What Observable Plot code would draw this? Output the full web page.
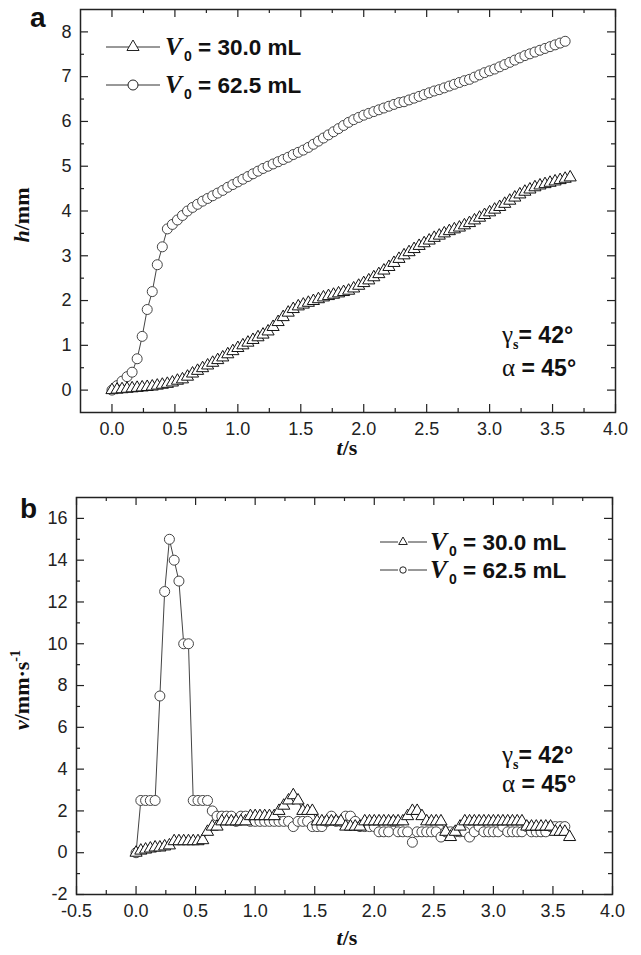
<!DOCTYPE html>
<html><head><meta charset="utf-8">
<script src="https://cdn.jsdelivr.net/npm/d3@7"></script>
<script src="https://cdn.jsdelivr.net/npm/@observablehq/plot@0.6"></script>
<style>
html,body{margin:0;padding:0;background:#fff;}
#wrap{position:relative;width:641px;height:955px;overflow:hidden;background:#fff;}
#wrap svg{position:absolute;left:0;}
</style></head><body><div id="wrap"></div>
<script>
// ---- data ----
const t = [
  0, 0.04, 0.08, 0.12, 0.16, 0.2, 0.24, 0.28, 0.32, 0.36,
  0.4, 0.44, 0.48, 0.52, 0.56, 0.6, 0.64, 0.68, 0.72, 0.76,
  0.8, 0.84, 0.88, 0.92, 0.96, 1.0, 1.04, 1.08, 1.12, 1.16,
  1.2, 1.24, 1.28, 1.32, 1.36, 1.4, 1.44, 1.48, 1.52, 1.56,
  1.6, 1.64, 1.68, 1.72, 1.76, 1.8, 1.84, 1.88, 1.92, 1.96,
  2.0, 2.04, 2.08, 2.12, 2.16, 2.2, 2.24, 2.28, 2.32, 2.36,
  2.4, 2.44, 2.48, 2.52, 2.56, 2.6, 2.64, 2.68, 2.72, 2.76,
  2.8, 2.84, 2.88, 2.92, 2.96, 3.0, 3.04, 3.08, 3.12, 3.16,
  3.2, 3.24, 3.28, 3.32, 3.36, 3.4, 3.44, 3.48, 3.52, 3.56,
  3.6, 3.64
];
// h (mm), V0 = 30.0 mL (triangles)
const h30 = [
  0, 0.01, 0.02, 0.03, 0.04, 0.05, 0.06, 0.07, 0.08, 0.10,
  0.12, 0.14, 0.17, 0.21, 0.24, 0.30, 0.37, 0.43, 0.49, 0.55,
  0.61, 0.67, 0.73, 0.80, 0.87, 0.94, 1.00, 1.06, 1.12, 1.18,
  1.24, 1.31, 1.41, 1.52, 1.63, 1.73, 1.81, 1.87, 1.91, 1.95,
  1.99, 2.03, 2.07, 2.10, 2.13, 2.16, 2.19, 2.22, 2.27, 2.33,
  2.39, 2.45, 2.52, 2.59, 2.67, 2.75, 2.84, 2.93, 3.01, 3.08,
  3.15, 3.22, 3.28, 3.34, 3.40, 3.45, 3.50, 3.55, 3.59, 3.63,
  3.68, 3.73, 3.79, 3.85, 3.91, 3.97, 4.03, 4.09, 4.16, 4.23,
  4.30, 4.37, 4.43, 4.48, 4.53, 4.57, 4.60, 4.63, 4.66, 4.69,
  4.72, 4.75
];
// h (mm), V0 = 62.5 mL (circles)
const h625 = [
  0, 0.1, 0.2, 0.3, 0.4, 0.7, 1.2, 1.8, 2.2, 2.8,
  3.2, 3.6, 3.7, 3.8, 3.9, 4.0, 4.08, 4.15, 4.22, 4.28,
  4.34, 4.40, 4.46, 4.53, 4.59, 4.65, 4.71, 4.77, 4.83, 4.89,
  4.95, 5.00, 5.05, 5.10, 5.15, 5.20, 5.26, 5.31, 5.36, 5.42,
  5.49, 5.56, 5.63, 5.70, 5.77, 5.84, 5.91, 5.98, 6.04, 6.09,
  6.14, 6.18, 6.22, 6.26, 6.30, 6.34, 6.38, 6.42, 6.44, 6.48,
  6.52, 6.56, 6.60, 6.64, 6.68, 6.71, 6.75, 6.79, 6.83, 6.87,
  6.91, 6.94, 6.99, 7.04, 7.09, 7.13, 7.17, 7.22, 7.27, 7.32,
  7.37, 7.42, 7.47, 7.51, 7.55, 7.59, 7.63, 7.67, 7.71, 7.75,
  7.79
];
// v (mm/s), V0 = 30.0 mL (triangles)
const v30 = [
  0, 0.1, 0.15, 0.2, 0.25, 0.25, 0.3, 0.35, 0.55, 0.55,
  0.55, 0.55, 0.55, 0.55, 0.6, 1.0, 1.25, 1.25, 1.5, 1.5,
  1.5, 1.5, 1.5, 1.5, 1.75, 1.75, 1.75, 1.75, 1.75, 1.75,
  2.0, 2.25, 2.5, 2.75, 2.5, 2.0, 2.0, 2.0, 1.5, 1.5,
  1.5, 1.5, 1.5, 1.5, 1.25, 1.25, 1.25, 1.25, 1.5, 1.5,
  1.5, 1.5, 1.5, 1.5, 1.5, 1.5, 1.5, 1.75, 2.0, 2.0,
  1.75, 1.5, 1.5, 1.5, 1.5, 1.0, 0.75, 1.0, 1.25, 1.5,
  1.5, 1.5, 1.5, 1.5, 1.5, 1.5, 1.5, 1.5, 1.5, 1.5,
  1.5, 1.5, 1.25, 1.25, 1.25, 1.25, 1.25, 1.25, 1.0, 1.0,
  1.0, 0.75
];
// v (mm/s), V0 = 62.5 mL (circles)
const v625 = [
  0, 2.5, 2.5, 2.5, 2.5, 7.5, 12.5, 15, 14, 13,
  10, 10, 2.5, 2.5, 2.5, 2.5, 2.0, 1.75, 1.75, 1.75,
  1.75, 1.5, 1.75, 1.75, 1.5, 1.5, 1.5, 1.5, 1.5, 1.5,
  1.5, 1.5, 1.5, 1.25, 1.5, 1.5, 1.5, 1.25, 1.25, 1.25,
  1.5, 1.75, 1.5, 1.5, 1.75, 1.75, 1.5, 1.25, 1.25, 1.25,
  1.25, 1.0, 1.0, 1.0, 1.5, 1.0, 1.0, 1.0, 0.5, 1.0,
  1.0, 1.0, 1.0, 1.0, 0.75, 1.0, 1.0, 1.0, 1.0, 1.0,
  0.75, 1.0, 1.25, 1.0, 1.0, 1.0, 1.0, 1.25, 1.0, 1.0,
  1.0, 1.0, 1.25, 1.0, 1.0, 1.0, 1.0, 1.25, 1.25, 1.25,
  1.25
];
const seriesLabels = ["30.0 mL", "62.5 mL"];
// ticks
const axTicks = [0, 0.5, 1, 1.5, 2, 2.5, 3, 3.5, 4];
const axMinor = [0.25, 0.75, 1.25, 1.75, 2.25, 2.75, 3.25, 3.75];
const ayTicks = [0, 1, 2, 3, 4, 5, 6, 7, 8];
const ayMinor = [0.5, 1.5, 2.5, 3.5, 4.5, 5.5, 6.5, 7.5];
const bxTicks = [-0.5, 0, 0.5, 1, 1.5, 2, 2.5, 3, 3.5, 4];
const bxMinor = [-0.25, 0.25, 0.75, 1.25, 1.75, 2.25, 2.75, 3.25, 3.75];
const byTicks = [-2, 0, 2, 4, 6, 8, 10, 12, 14, 16];
const byMinor = [-1, 1, 3, 5, 7, 9, 11, 13, 15];

const SANS = "'Liberation Sans', Arial, sans-serif";
const SERIF = "'Liberation Serif', 'Times New Roman', serif";
const W = 641;

const triA = t.map((tt, i) => ({t: tt, y: h30[i]}));
const cirA = h625.map((y, i) => ({t: t[i], y}));
const triB = t.map((tt, i) => ({t: tt, y: v30[i]}));
const cirB = v625.map((y, i) => ({t: t[i], y}));

function panel(o) {
  const ph = o.height - o.mt - o.mb, pw = W - o.ml - o.mr;
  const tk = {stroke: "#222", strokeWidth: 1.2};
  return Plot.plot({
    width: W, height: o.height,
    marginTop: o.mt, marginBottom: o.mb, marginLeft: o.ml, marginRight: o.mr,
    x: {domain: o.xdom}, y: {domain: o.ydom},
    style: {fontFamily: SANS, fontSize: "18px", color: "#222", background: "transparent", overflow: "visible"},
    marks: [
      Plot.line(o.tri, {x: "t", y: "y", stroke: "#333", strokeWidth: 1}),
      Plot.line(o.cir, {x: "t", y: "y", stroke: "#444", strokeWidth: 1}),
      Plot.dot(o.cir, {x: "t", y: "y", r: 5, stroke: "#444", fill: "white", strokeWidth: 1}),
      Plot.dot(o.tri, {x: "t", y: "y", symbol: "triangle", r: 4.5, stroke: "#111", fill: "white", strokeWidth: 1}),
      Plot.tickX(o.xMaj, {x: d => d, insetTop: ph - 8, ...tk}),
      Plot.tickX(o.xMin, {x: d => d, insetTop: ph - 4, ...tk}),
      Plot.tickX(o.xMaj, {x: d => d, insetBottom: ph - 8, ...tk}),
      Plot.tickX(o.xMin, {x: d => d, insetBottom: ph - 4, ...tk}),
      Plot.tickY(o.yMaj, {y: d => d, insetRight: pw - 8, ...tk}),
      Plot.tickY(o.yMin, {y: d => d, insetRight: pw - 4, ...tk}),
      Plot.tickY(o.yMaj, {y: d => d, insetLeft: pw - 8, ...tk}),
      Plot.tickY(o.yMin, {y: d => d, insetLeft: pw - 4, ...tk}),
      Plot.axisX(o.xMaj, {tickSize: 0, tickPadding: 10, tickFormat: d => d.toFixed(1), label: null, fill: "#222"}),
      Plot.axisY(o.yMaj, {tickSize: 0, tickPadding: 9, tickFormat: d => String(d), label: null, fill: "#222"}),
      Plot.frame({stroke: "#222", strokeWidth: 1.5})
    ]
  });
}

const wrap = document.getElementById("wrap");
const pa = panel({height: 460, mt: 9, mb: 48, ml: 80, mr: 26, xdom: [-0.25, 4], ydom: [-0.5, 8.5],
  xMaj: axTicks, xMin: axMinor, yMaj: ayTicks, yMin: ayMinor, tri: triA, cir: cirA});
pa.style.top = "0px";
wrap.appendChild(pa);
const pb = panel({height: 495, mt: 37, mb: 61, ml: 76, mr: 29, xdom: [-0.5, 4], ydom: [-2, 17],
  xMaj: bxTicks, xMin: bxMinor, yMaj: byTicks, yMin: byMinor, tri: triB, cir: cirB});
pb.style.top = "460px";
wrap.appendChild(pb);

// ---- overlay: panel letters, legends, annotations, axis titles ----
const ov = d3.create("svg").attr("width", W).attr("height", 955).style("top", "0px").style("pointer-events", "none");
const txt = (x, y, size, family) => ov.append("text").attr("x", x).attr("y", y)
  .attr("font-family", family).attr("font-size", size).attr("font-weight", "bold").attr("fill", "#111");

txt(30, 27, 28, SANS).text("a");
txt(20, 518, 28, SANS).text("b");

function legendRow(x1, x2, cx, gap, y, sym, r, tx, label, fs) {
  ov.append("line").attr("x1", x1).attr("x2", cx - gap).attr("y1", y).attr("y2", y).attr("stroke", "#333").attr("stroke-width", 1);
  ov.append("line").attr("x1", cx + gap).attr("x2", x2).attr("y1", y).attr("y2", y).attr("stroke", "#333").attr("stroke-width", 1);
  const path = d3.symbol(sym === "triangle" ? d3.symbolTriangle : d3.symbolCircle, r * r * Math.PI)();
  ov.append("path").attr("d", path).attr("transform", `translate(${cx},${y})`)
    .attr("fill", "white").attr("stroke", "#222").attr("stroke-width", 1);
  const el = txt(tx, y + 8, fs, SANS);
  el.append("tspan").attr("font-family", SERIF).attr("font-style", "italic").attr("font-size", fs + 3).text("V");
  el.append("tspan").attr("font-size", Math.round(fs * 0.6)).attr("dy", 6).attr("dx", 2).text("0");
  el.append("tspan").attr("dy", -6).text(" = " + label);
}
legendRow(106, 160, 133, 0, 47, "triangle", 4.5, 165, seriesLabels[0], 22.5);
legendRow(106, 160, 133, 0, 85, "circle", 5, 165, seriesLabels[1], 22.5);
legendRow(380, 427, 403, 5, 542, "triangle", 3.2, 430, seriesLabels[0], 22.5);
legendRow(380, 427, 403, 5, 570, "circle", 3.2, 430, seriesLabels[1], 22.5);

function anno(x, y1, y2) {
  const g = txt(x, y1, 23, SANS);
  g.append("tspan").attr("font-family", SERIF).attr("font-weight", "normal").attr("font-size", 25).text("γ");
  g.append("tspan").attr("font-family", SERIF).attr("font-size", 14).attr("dy", 6).text("s");
  g.append("tspan").attr("dy", -6).text("= 42°");
  const a = txt(x, y2, 23, SANS);
  a.append("tspan").attr("font-family", SERIF).attr("font-weight", "normal").attr("font-size", 25).text("α");
  a.append("tspan").text(" = 45°");
}
anno(502, 343, 376);
anno(502, 763, 792);

function xTitle(y) {
  const e = txt(347, y, 22, SERIF).attr("text-anchor", "middle");
  e.append("tspan").attr("font-style", "italic").text("t");
  e.append("tspan").text("/s");
}
xTitle(455);
xTitle(945);
const yt1 = txt(0, 0, 22, SERIF).attr("text-anchor", "middle").attr("transform", "translate(29,215) rotate(-90)");
yt1.append("tspan").attr("font-style", "italic").text("h");
yt1.append("tspan").text("/mm");
const yt2 = txt(0, 0, 22, SERIF).attr("text-anchor", "middle").attr("transform", "translate(29,690) rotate(-90)");
yt2.append("tspan").attr("font-style", "italic").text("v");
yt2.append("tspan").text("/mm·s");
yt2.append("tspan").attr("font-size", 14).attr("dy", -9).text("-1");
wrap.appendChild(ov.node());
</script></body></html>
